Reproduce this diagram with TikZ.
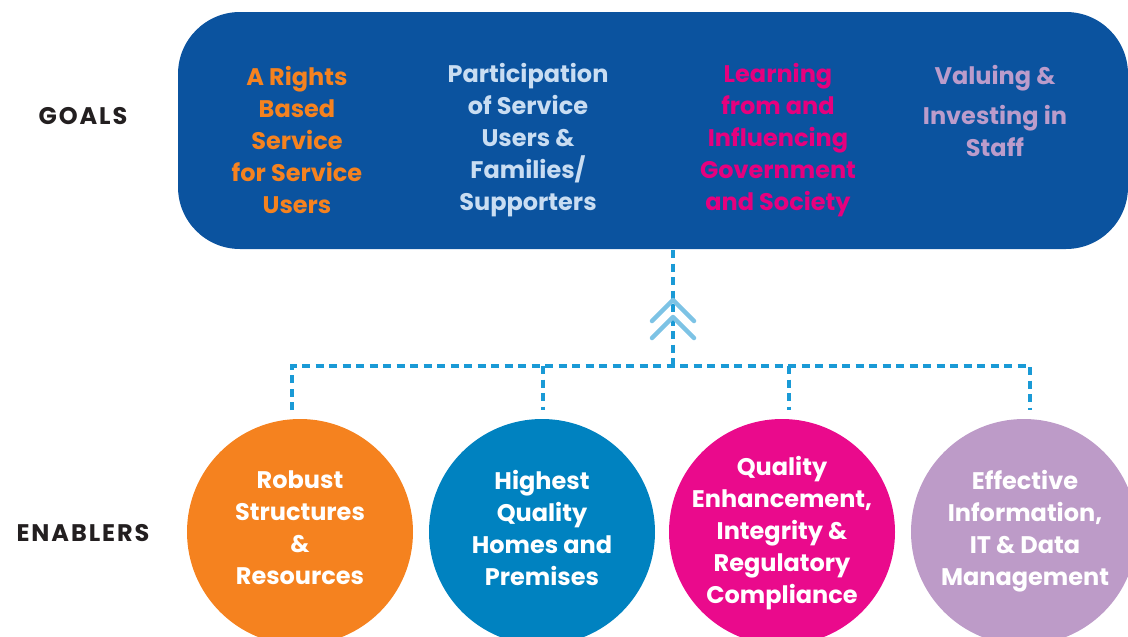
\documentclass[tikz,border=0pt]{standalone}
\usepackage{fontspec}
\usetikzlibrary{calc}
\setmainfont{Poppins}[UprightFont=* SemiBold, BoldFont=* Bold]
\newfontfamily\labelfont{Poppins}[UprightFont=* Bold, LetterSpace=8]
\definecolor{boxblue}{HTML}{0B539F}
\definecolor{gorange}{HTML}{F5821F}
\definecolor{gpale}{HTML}{C9DDF2}
\definecolor{gmagenta}{HTML}{E6007E}
\definecolor{glav}{HTML}{BB9CCB}
\definecolor{cblue}{HTML}{0082C0}
\definecolor{cmag}{HTML}{EA0A8C}
\definecolor{clav}{HTML}{BD9BC8}
\definecolor{dashblue}{HTML}{1A9AD6}
\definecolor{chev}{HTML}{7DC3E5}
\definecolor{labelblack}{HTML}{231F20}
\begin{document}
\begin{tikzpicture}[x=1pt,y=-1pt,
  goaltxt/.style={align=center,font=\fontsize{24}{32}\selectfont\bfseries,inner sep=0pt,anchor=center},
  circtxt/.style={align=center,font=\fontsize{24}{32}\selectfont\bfseries,text=white,inner sep=0pt,anchor=center},
  sidelabel/.style={font=\labelfont\fontsize{24}{28}\selectfont,text=labelblack,inner sep=0pt},
  enabler/.style={circle,minimum size=226pt,inner sep=0pt},
  dashline/.style={draw=dashblue,line width=3.2pt,dash pattern=on 8pt off 5.5pt},
  chevline/.style={draw=chev,line width=4.5pt,line cap=round,line join=round}]
\useasboundingbox (0,0) rectangle (1128,637);
% goals box
\node[fill=boxblue,rounded corners=62pt,minimum width=950pt,minimum height=237pt,inner sep=0pt] (box) at (653,130.5) {};
% goal texts
\node[goaltxt,text=gorange] (g1) at (297,140) {A Rights\\Based\\Service\\for Service\\Users};
\node[goaltxt,text=gpale] (g2) at (528,140) {Participation\\of Service\\Users \&\\Families/\\Supporters};
\node[goaltxt,text=gmagenta] (g3) at (778,140) {Learning\\from and\\Influencing\\Government\\and Society};
\node[goaltxt,text=glav] (g4) at (995,111) {Valuing \&\\[8pt]Investing in\\Staff};
% side labels
\node[sidelabel] (goals) at (83,116) {GOALS};
\node[sidelabel] (enablers) at (83,533) {ENABLERS};
% circles
\node[enabler,fill=gorange] (c1) at (300,532) {};
\node[enabler,fill=cblue] (c2) at (542,532) {};
\node[enabler,fill=cmag] (c3) at (782,532) {};
\node[enabler,fill=clav] (c4) at (1024,532) {};
\node[circtxt] (t1) at (300,528) {Robust\\Structures\\\&\\Resources};
\node[circtxt] (t2) at (542,528) {Highest\\Quality\\Homes and\\Premises};
\node[circtxt] (t3) at (782,533) {Quality\\Enhancement,\\Integrity \&\\Regulatory\\Compliance};
\node[circtxt] (t4) at (1025,531) {Effective\\Information,\\IT \& Data\\Management};
% connectors
\coordinate (top) at (673,250);
\coordinate (hub) at (673,366);
\coordinate (hl) at (292,366);
\coordinate (hr) at (1030,366);
\coordinate (d1) at (292,410);
\coordinate (d2) at (543,366);
\coordinate (d2e) at (543,410);
\coordinate (d3) at (789,366);
\coordinate (d3e) at (789,410);
\coordinate (d4e) at (1030,410);
\draw[dashline] (top) -- (hub);
\draw[dashline] (d1) -- (hl) -- (hr) -- (d4e);
\draw[dashline] (d2) -- (d2e);
\draw[dashline] (d3) -- (d3e);
% chevrons
\coordinate (ap1) at (673,300);
\coordinate (ap2) at (673,317);
\draw[chevline] ($(ap1)+(-21,21)$) -- (ap1) -- ($(ap1)+(21,21)$);
\draw[chevline] ($(ap2)+(-21,21)$) -- (ap2) -- ($(ap2)+(21,21)$);
\end{tikzpicture}
\end{document}
